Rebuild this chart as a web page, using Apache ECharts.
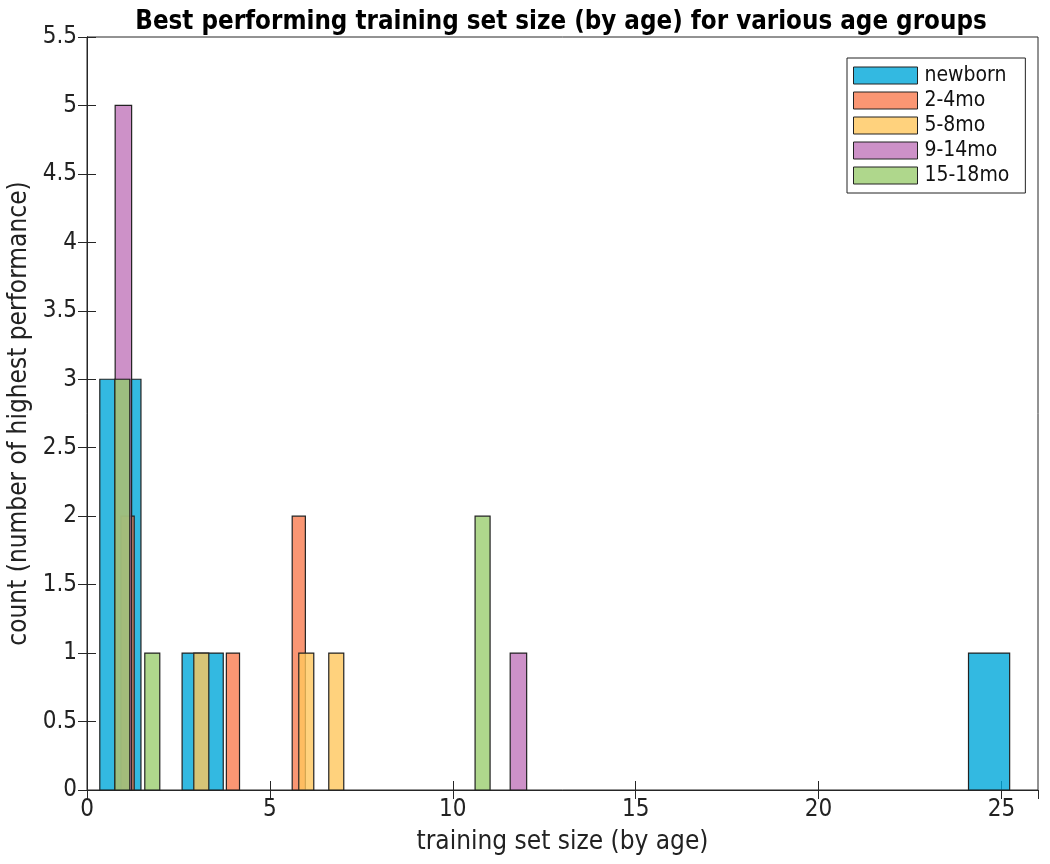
<!DOCTYPE html>
<html>
<head>
<meta charset="utf-8">
<script src="https://cdn.jsdelivr.net/npm/echarts@6/dist/echarts.min.js"></script>
<style>
html,body{margin:0;padding:0;background:#fff;}
#c{width:1050px;height:864px;}
</style>
</head>
<body>
<div id="c"></div>
<script>
// ---- data ----
const seriesNames = ['newborn', '2-4mo', '5-8mo', '9-14mo', '15-18mo'];
const newbornStarts = [0.35, 2.60, 24.10];
const newbornCounts = [3, 1, 1];
const newbornWidth = 1.125;
const m2to4Starts = [0.93, 3.81, 5.61];
const m2to4Counts = [2, 1, 2];
const m2to4Width = 0.36;
const m5to8Starts = [2.92, 5.79, 6.61];
const m5to8Counts = [1, 1, 1];
const m5to8Width = 0.41;
const m9to14Starts = [0.77, 11.57];
const m9to14Counts = [5, 1];
const m9to14Width = 0.45;
const m15to18Starts = [0.76, 1.58, 10.61];
const m15to18Counts = [3, 1, 2];
const m15to18Width = 0.41;
const xTicks = [0, 5, 10, 15, 20, 25];
const yTicks = [0, 0.5, 1, 1.5, 2, 2.5, 3, 3.5, 4, 4.5, 5, 5.5];

const colors = ['rgba(0,168,218,0.8)', 'rgba(249,124,80,0.8)', 'rgba(255,199,92,0.8)', 'rgba(193,118,186,0.8)', 'rgba(155,205,111,0.8)'];
const legendColors = ['rgb(51,185,225)', 'rgb(250,150,115)', 'rgb(255,210,125)', 'rgb(205,145,200)', 'rgb(175,215,140)'];

const groups = [
  [newbornStarts, newbornCounts, newbornWidth],
  [m2to4Starts, m2to4Counts, m2to4Width],
  [m5to8Starts, m5to8Counts, m5to8Width],
  [m9to14Starts, m9to14Counts, m9to14Width],
  [m15to18Starts, m15to18Counts, m15to18Width]
];

const FONT = "'DejaVu Sans Condensed', 'DejaVu Sans', sans-serif";

function renderItem(params, api) {
  const x0 = api.value(0), x1 = api.value(1), c = api.value(2);
  const p0 = api.coord([x0, 0]);
  const p1 = api.coord([x1, c]);
  return {
    type: 'rect',
    shape: { x: p0[0], y: p1[1], width: p1[0] - p0[0], height: p0[1] - p1[1] },
    style: { fill: colors[params.seriesIndex], stroke: '#222', lineWidth: 1.2 }
  };
}

const series = groups.map((g, i) => ({
  name: seriesNames[i],
  type: 'custom',
  renderItem: renderItem,
  itemStyle: { color: legendColors[i], borderColor: '#222', borderWidth: 1 },
  encode: { x: [0, 1], y: 2 },
  data: g[0].map((s, k) => [s, s + g[2], g[1][k]])
}));

const chart = echarts.init(document.getElementById('c'), null, { renderer: 'canvas' });
chart.setOption({
  animation: false,
  backgroundColor: '#fff',
  title: {
    text: 'Best performing training set size (by age) for various age groups',
    left: 556, top: 4, textAlign: 'center',
    textStyle: { fontFamily: FONT, fontSize: 25.7, fontWeight: 'bold', color: '#000' }
  },
  legend: {
    orient: 'vertical',
    left: 847, top: 58,
    padding: [7, 16, 7, 6],
    itemWidth: 64, itemHeight: 17, itemGap: 4,
    borderColor: '#222', borderWidth: 1, backgroundColor: '#fff',
    icon: 'rect',
    data: seriesNames.map((n, i) => ({ name: n, itemStyle: { color: legendColors[i], borderColor: '#222', borderWidth: 1 } })),
    textStyle: { fontFamily: FONT, fontSize: 21, color: '#111', padding: [0, 0, 0, 2] }
  },
  grid: { left: 87, right: 12, top: 37, bottom: 74, containLabel: false, outerBoundsMode: 'none',
    show: true, borderColor: '#262626', borderWidth: 1, backgroundColor: 'transparent' },
  xAxis: [{
    type: 'value', min: 0, max: 26, interval: 5,
    name: 'training set size (by age)', nameLocation: 'middle', nameGap: 39,
    nameTextStyle: { fontFamily: FONT, fontSize: 26, color: '#222' },
    axisLine: { show: true, lineStyle: { color: '#262626', width: 1 } },
    axisTick: { show: true, inside: true, length: 9, lineStyle: { color: '#262626' } },
    axisLabel: { fontFamily: FONT, fontSize: 24, color: '#222', margin: 8, showMaxLabel: false,
      formatter: v => (xTicks.indexOf(v) >= 0 ? String(v) : '') },
    splitLine: { show: false }
  }, {
    type: 'value', min: 0, max: 26, interval: 5, position: 'top',
    axisLine: { show: true, lineStyle: { color: '#262626', width: 1 } },
    axisTick: { show: true, inside: true, length: 9, lineStyle: { color: '#262626' } },
    axisLabel: { show: false }, splitLine: { show: false }
  }],
  yAxis: [{
    type: 'value', min: 0, max: 5.5, interval: 0.5,
    name: 'count (number of highest performance)', nameLocation: 'middle', nameGap: 49,
    nameTextStyle: { fontFamily: FONT, fontSize: 26, color: '#222' },
    axisLine: { show: true, lineStyle: { color: '#262626', width: 1 } },
    axisTick: { show: true, inside: true, length: 9, lineStyle: { color: '#262626' } },
    axisLabel: { fontFamily: FONT, fontSize: 24, color: '#222', margin: 10,
      formatter: v => (yTicks.indexOf(v) >= 0 ? String(v) : '') },
    splitLine: { show: false }
  }, {
    type: 'value', min: 0, max: 5.5, interval: 0.5, position: 'right',
    axisLine: { show: true, lineStyle: { color: '#262626', width: 1 } },
    axisTick: { show: true, inside: true, length: 9, lineStyle: { color: '#262626' } },
    axisLabel: { show: false }, splitLine: { show: false }
  }],
  series: series
});
</script>
</body>
</html>
